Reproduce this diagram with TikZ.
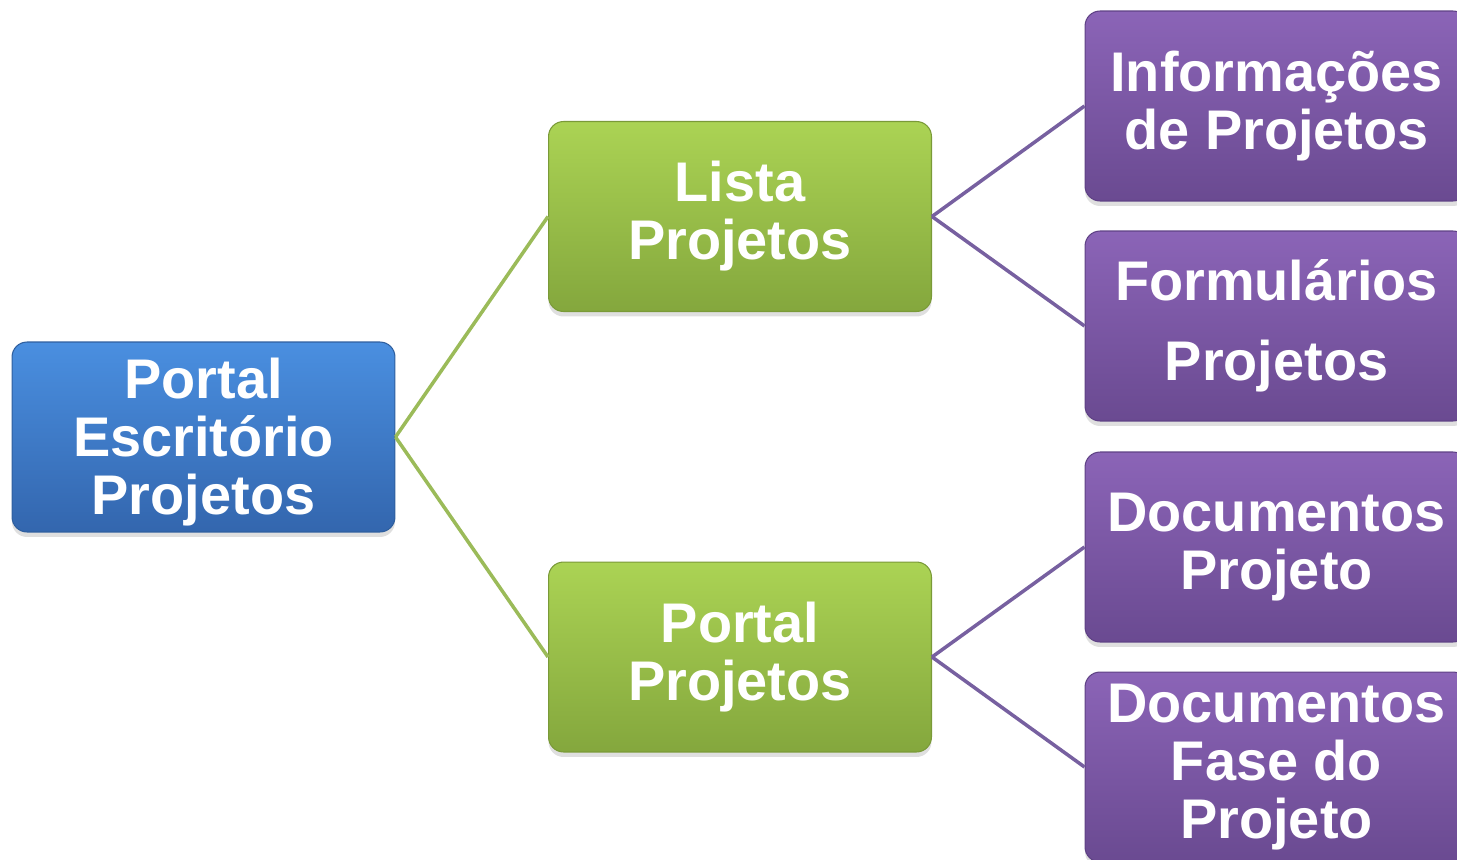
\documentclass[tikz,border=0pt]{standalone}
\usepackage{fontspec}
\setmainfont{Liberation Sans}
\usetikzlibrary{shadows}
\definecolor{bluetop}{HTML}{4A8FE0}
\definecolor{bluebot}{HTML}{3366AE}
\definecolor{bluedraw}{HTML}{2F5F9E}
\definecolor{greentop}{HTML}{ABD354}
\definecolor{greenbot}{HTML}{84A73D}
\definecolor{greendraw}{HTML}{7A9A38}
\definecolor{purpletop}{HTML}{8B64B7}
\definecolor{purplebot}{HTML}{6A4A91}
\definecolor{purpledraw}{HTML}{5F4285}
\definecolor{greenline}{HTML}{9BBB59}
\definecolor{purpleline}{HTML}{7760A0}
\tikzset{
  box/.style={rounded corners=0.3cm, minimum width=7.66cm, minimum height=3.8cm,
    inner sep=0pt, align=center, text=white, line width=0.6pt,
    font=\bfseries\fontsize{31.8}{33}\selectfont,
    drop shadow={shadow xshift=0pt, shadow yshift=-0.1cm, opacity=0.25}},
  bluebox/.style={box, draw=bluedraw, top color=bluetop, bottom color=bluebot},
  greenbox/.style={box, draw=greendraw, top color=greentop, bottom color=greenbot},
  purplebox/.style={box, draw=purpledraw, top color=purpletop, bottom color=purplebot},
  gline/.style={draw=greenline, line width=2pt},
  pline/.style={draw=purpleline, line width=2pt}
}
\begin{document}
\begin{tikzpicture}[x=0.02cm, y=-0.02cm]
\useasboundingbox (0,0) rectangle (1457,859);
\node[bluebox] (root) at (203.5,437) {\\[-4pt]Portal\\Escritório\\Projetos};
\node[greenbox] (lista) at (740,216.5) {Lista\\Projetos};
\node[greenbox] (portal) at (740,657) {Portal\\Projetos};
\node[purplebox] (info) at (1276.5,106) {Informações\\de Projetos};
\node[purplebox] (form) at (1276.5,326) {Formulários\\[12.5pt]Projetos};
\node[purplebox] (docp) at (1276.5,547) {Documentos\\Projeto};
\node[purplebox] (docf) at (1276.5,767) {Documentos\\Fase do\\Projeto};
\draw[gline] (root.east) -- (lista.west);
\draw[gline] (root.east) -- (portal.west);
\draw[pline] (lista.east) -- (info.west);
\draw[pline] (lista.east) -- (form.west);
\draw[pline] (portal.east) -- (docp.west);
\draw[pline] (portal.east) -- (docf.west);
\end{tikzpicture}
\end{document}
